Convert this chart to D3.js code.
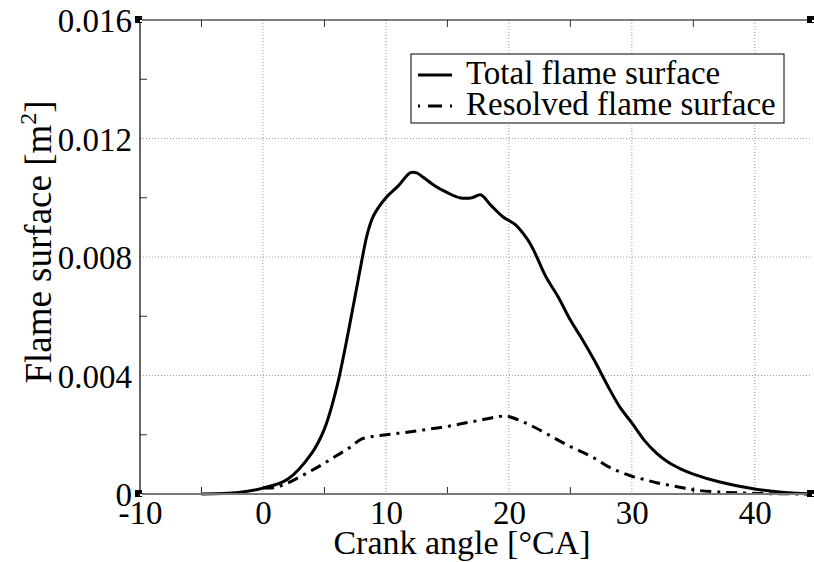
<html>
<head>
<meta charset="utf-8">
<title>Flame surface</title>
<style>
  body { margin: 0; background: #fff; }
  text { font-family: 'Liberation Serif', 'Times New Roman', serif; fill: #000; }
</style>
</head>
<body>
<svg width="814" height="562"></svg>
<script src="https://d3js.org/d3.v7.min.js"></script>
<script>

// crank angle [deg CA] and flame surface [m2]
var totalAngle = [-5, -2, 0, 2, 4, 5, 6, 7, 8, 8.5, 9, 10, 11, 12, 12.5, 13, 14, 15, 16, 17, 17.7, 18.5, 19.5, 20.5, 21.5, 22, 23, 24, 25, 26, 27, 28, 29, 30, 31, 32, 33, 34, 35, 37, 40, 42, 44.6];
var totalSurface = [0, 0.00005, 0.0002, 0.0005, 0.0014, 0.0022, 0.0036, 0.0056, 0.0078, 0.0088, 0.0094, 0.0100, 0.0104, 0.01085, 0.01084, 0.0107, 0.0104, 0.01017, 0.0100, 0.0100, 0.0101, 0.00976, 0.00936, 0.0091, 0.0086, 0.00824, 0.00734, 0.00666, 0.00587, 0.0052, 0.00447, 0.00368, 0.00295, 0.0024, 0.00182, 0.00138, 0.00106, 0.00084, 0.00067, 0.00042, 0.00017, 0.00007, 0];

var resolvedAngle = [0, 1, 2, 3, 4, 5, 6, 7, 8, 9, 10, 11, 12, 13, 14, 15, 16, 17, 18, 19, 19.8, 21, 22, 23, 24, 25, 26, 27, 28, 29, 30, 31, 32, 33, 34, 35, 37, 40, 44.6];
var resolvedSurface = [0.0002, 0.00022, 0.00037, 0.00058, 0.0008, 0.00104, 0.0013, 0.00155, 0.00185, 0.00195, 0.002, 0.00205, 0.0021, 0.00216, 0.00222, 0.00228, 0.00236, 0.00244, 0.00252, 0.0026, 0.00263, 0.00246, 0.00227, 0.00205, 0.00182, 0.0016, 0.00141, 0.0012, 0.00094, 0.00075, 0.0006, 0.00049, 0.00038, 0.0003, 0.00022, 0.00014, 0.00007, 0.00002, 0];

var xTicks = [-10, 0, 10, 20, 30, 40];
var xMinor = [-5, 5, 15, 25, 35];
var yTicks = [0, 0.004, 0.008, 0.012, 0.016];
var yMinor = [0.002, 0.006, 0.010, 0.014];
var legendNames = ['Total flame surface', 'Resolved flame surface'];

var svg = d3.select('svg');
var pLeft = 140, pRight = 812, pTop = 20, pBottom = 494;

var x = d3.scaleLinear().domain([-10, 44.65]).range([pLeft, pRight]);
var y = d3.scaleLinear().domain([0, 0.016]).range([pBottom, pTop]);

// grid
svg.selectAll('.vgrid').data(xTicks.slice(1)).enter().append('line')
  .attr('x1', function(d) { return x(d); }).attr('x2', function(d) { return x(d); })
  .attr('y1', pTop).attr('y2', pBottom)
  .attr('style', 'stroke:#999;stroke-width:1;stroke-dasharray:1,2');
svg.selectAll('.hgrid').data(yTicks.slice(1, 4)).enter().append('line')
  .attr('x1', pLeft).attr('x2', pRight)
  .attr('y1', function(d) { return y(d); }).attr('y2', function(d) { return y(d); })
  .attr('style', 'stroke:#999;stroke-width:1;stroke-dasharray:1,2');

// minor ticks (inside)
svg.selectAll('.tb').data(xMinor).enter().append('line')
  .attr('x1', function(d) { return x(d); }).attr('x2', function(d) { return x(d); })
  .attr('y1', pBottom).attr('y2', pBottom - 7)
  .attr('style', 'stroke:#222;stroke-width:1');
svg.selectAll('.tt').data(xMinor).enter().append('line')
  .attr('x1', function(d) { return x(d); }).attr('x2', function(d) { return x(d); })
  .attr('y1', pTop).attr('y2', pTop + 7)
  .attr('style', 'stroke:#333;stroke-width:1');
svg.selectAll('.tl').data(yMinor).enter().append('line')
  .attr('x1', pLeft).attr('x2', pLeft + 7)
  .attr('y1', function(d) { return y(d); }).attr('y2', function(d) { return y(d); })
  .attr('style', 'stroke:#333;stroke-width:1');

// curves
var line = d3.line()
  .x(function(d) { return x(d[0]); })
  .y(function(d) { return y(d[1]); })
  .curve(d3.curveCatmullRom.alpha(0.5));

svg.append('path')
  .attr('d', line(d3.zip(resolvedAngle, resolvedSurface)))
  .attr('style', 'fill:none;stroke:#000;stroke-width:3;stroke-dasharray:11,6,3,6');
svg.append('path')
  .attr('d', line(d3.zip(totalAngle, totalSurface)))
  .attr('style', 'fill:none;stroke:#000;stroke-width:3');

// frame
svg.append('line').attr('x1', pLeft).attr('x2', pRight).attr('y1', pTop).attr('y2', pTop)
  .attr('style', 'stroke:#000;stroke-width:1.2');
svg.append('line').attr('x1', pLeft).attr('x2', pLeft).attr('y1', pTop).attr('y2', pBottom)
  .attr('style', 'stroke:#000;stroke-width:1.2');
svg.append('line').attr('x1', pLeft).attr('x2', pRight).attr('y1', pBottom).attr('y2', pBottom)
  .attr('style', 'stroke:#777;stroke-width:2');
[[pLeft, pTop], [pLeft, pBottom], [pRight, pTop], [pRight, pBottom]].forEach(function(c) {
  svg.append('rect').attr('x', c[0] - 5).attr('y', c[1] - 4).attr('width', 7).attr('height', 7)
    .attr('fill', '#000');
  svg.append('rect').attr('x', c[0]).attr('y', c[1]).attr('width', 2).attr('height', 2)
    .attr('fill', '#fff');
});

// tick labels via d3 axes
var xAxis = svg.append('g').attr('transform', 'translate(0,' + pBottom + ')')
  .call(d3.axisBottom(x).tickValues(xTicks).tickSize(0).tickPadding(0)
    .tickFormat(function(d) { return String(d); }));
xAxis.select('.domain').remove();
xAxis.selectAll('text').attr('y', 30).attr('dy', 0)
  .style('font-size', '33px').style('font-family', "'Liberation Serif', serif").attr('fill', '#000');

var yAxis = svg.append('g').attr('transform', 'translate(' + pLeft + ',0)')
  .call(d3.axisLeft(y).tickValues(yTicks).tickSize(0).tickPadding(8)
    .tickFormat(function(d) { return d === 0 ? '0' : d3.format('.3f')(d); }));
yAxis.select('.domain').remove();
yAxis.selectAll('text').attr('dy', '0.35em')
  .style('font-size', '33px').style('font-family', "'Liberation Serif', serif").attr('fill', '#000');

svg.append('text').attr('x', 462).attr('y', 554).attr('text-anchor', 'middle')
  .style('font-size', '34px').text('Crank angle [°CA]');

var yt = svg.append('text').attr('transform', 'translate(51,242) rotate(-90)')
  .attr('text-anchor', 'middle').style('font-size', '37px');
yt.append('tspan').text('Flame surface [m');
yt.append('tspan').attr('dy', -15).style('font-size', '24px').text('2');
yt.append('tspan').attr('dy', 15).text(']');

// legend
var lg = svg.append('g');
lg.append('rect').attr('x', 411).attr('y', 54).attr('width', 373).attr('height', 69)
  .attr('style', 'fill:#fff;stroke:#000;stroke-width:1');
var rows = lg.selectAll('.row').data(legendNames).enter().append('g')
  .attr('transform', function(d, i) { return 'translate(0,' + (i * 31) + ')'; });
rows.append('line').attr('x1', 418).attr('x2', 452).attr('y1', 75).attr('y2', 75)
  .attr('style', function(d, i) {
    return 'stroke:#000;stroke-width:3' + (i === 1 ? ';stroke-dasharray:2,8,14,8' : '');
  });
rows.append('text').attr('x', 466).attr('y', 84).style('font-size', '33px')
  .text(function(d) { return d; });

</script>
</body>
</html>
